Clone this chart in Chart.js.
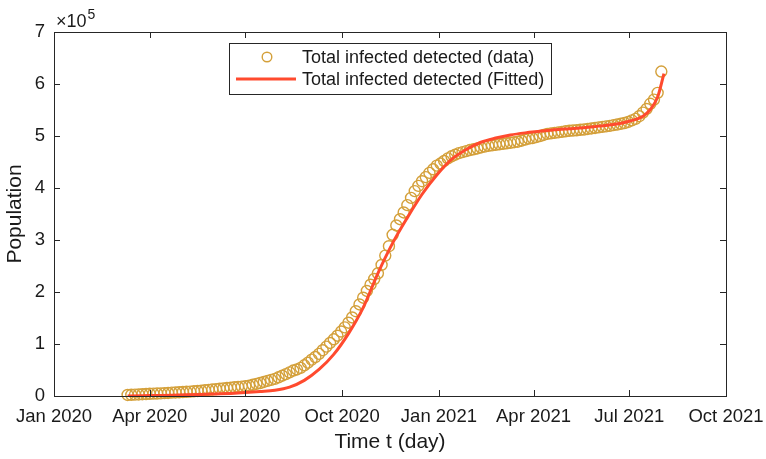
<!DOCTYPE html>
<html>
<head>
<meta charset="utf-8">
<script src="https://cdn.jsdelivr.net/npm/chart.js@4.4.1/dist/chart.umd.min.js"></script>
<style>
    html, body { margin: 0; padding: 0; background: #fff; }
</style>
</head>
<body>
<canvas id="grafico" width="766" height="459"></canvas>
<script>
"use strict";

/* ===== DATA ===== */
// x axis: days since 1 Jan 2020
const tickDays = [0, 91, 182, 274, 366, 456, 547, 639];
const tickLabels = ["Jan 2020", "Apr 2020", "Jul 2020", "Oct 2020", "Jan 2021", "Apr 2021", "Jul 2021", "Oct 2021"];
const yTicks = [0, 1, 2, 3, 4, 5, 6, 7];

// detected cases, sampled twice a week starting 11 Mar 2020
const firstDay = 70;
const stepDays = 3.5;
const detected = [
    2000, 2300, 2700, 3000, 3400, 3800, 4200, 4500, 4800, 5100,
    5500, 5900, 6400, 6800, 7200, 7700, 8100, 8500, 9100, 9600,
    10200, 11000, 11700, 12400, 13200, 14000, 14600, 15300, 16000, 16700,
    17400, 18100, 18800, 19800, 21500, 23300, 25000, 27000, 29000, 31000,
    33000, 36000, 39000, 42000, 45500, 49000, 51000, 54000, 59000, 64000,
    70000, 75000, 81000, 88000, 95000, 102000, 109000, 116000, 124000, 132000,
    141000, 151000, 163000, 176000, 189000, 202000, 214000, 225000, 236000, 252000,
    270000, 288000, 310000, 328000, 340000, 353000, 367000, 381000, 394000, 404000,
    413000, 421000, 429000, 436000, 443000, 447000, 452000, 457000, 461000, 464000,
    467000, 469000, 471000, 473000, 474500, 476000, 478000, 479500, 481000, 482000,
    483000, 484000, 485000, 486000, 487000, 488000, 489000, 491000, 493000, 495000,
    496000, 498000, 500000, 502000, 504000, 505000, 506000, 507000, 508000, 509000,
    510000, 510500, 511000, 512000, 512500, 513500, 514500, 515500, 516500, 517500,
    518500, 519500, 521000, 522000, 523500, 525000, 527000, 530000, 533000, 538000,
    545000, 552000, 562000, 570000, 583000, 624000
];

// fitted model curve
const fittedDays = [70, 84, 98, 112, 126, 140, 154, 168, 182, 196, 210, 224, 238, 252, 266, 280, 294, 308, 322, 336,
    350, 364, 378, 392, 406, 420, 434, 448, 462, 476, 490, 504, 518, 532, 546, 560, 567, 574, 580];
const fitted = [0, 500, 1000, 1500, 2200, 3000, 4000, 5000, 6500, 8500, 11000, 17000, 30000, 51000, 80000, 120000, 170000, 236000, 294000, 343000,
    388000, 425000, 455000, 474000, 488000, 496000, 502000, 506000, 509000, 512000, 514000, 516000, 519000, 522000, 528000, 538000, 551000, 575000, 620000];

const corTexto = "#1a1a1a";
const corEixo = "#262626";
const fonte = "'Liberation Sans', Arial, Helvetica, sans-serif";

/* ===== PLUGINS ===== */
// MATLAB-like box with inward ticks, exponent label and framed legend
const caixaMatlab = {
    id: "caixaMatlab",
    afterDraw(chart) {
        const ctx = chart.ctx;
        const a = chart.chartArea;
        const xs = chart.scales.x;
        const ys = chart.scales.y;
        const tam = 6;

        ctx.save();
        ctx.strokeStyle = corEixo;
        ctx.lineWidth = 1;
        ctx.strokeRect(Math.round(a.left) + 0.5, Math.round(a.top) + 0.5,
            Math.round(a.right - a.left), Math.round(a.bottom - a.top));

        ctx.beginPath();
        tickDays.forEach(d => {
            const px = Math.round(xs.getPixelForValue(d)) + 0.5;
            ctx.moveTo(px, a.bottom); ctx.lineTo(px, a.bottom - tam);
            ctx.moveTo(px, a.top); ctx.lineTo(px, a.top + tam);
        });
        ys.ticks.forEach(t => {
            const py = Math.round(ys.getPixelForValue(t.value)) + 0.5;
            ctx.moveTo(a.left, py); ctx.lineTo(a.left + tam, py);
            ctx.moveTo(a.right, py); ctx.lineTo(a.right - tam, py);
        });
        ctx.stroke();

        // x10^5
        ctx.fillStyle = corTexto;
        ctx.textBaseline = "alphabetic";
        ctx.textAlign = "left";
        ctx.font = "18px " + fonte;
        ctx.fillText("\u00d710", a.left + 2, a.top - 5);
        const w = ctx.measureText("\u00d710").width;
        ctx.font = "14px " + fonte;
        ctx.fillText("5", a.left + 3 + w, a.top - 13);

        // legend
        const lx = 229, ly = 43, lw = 322, lh = 51;
        ctx.fillStyle = "#fff";
        ctx.fillRect(lx, ly, lw, lh);
        ctx.strokeStyle = corEixo;
        ctx.strokeRect(lx + 0.5, ly + 0.5, lw, lh);

        const dsPts = chart.data.datasets[0];
        const dsLin = chart.data.datasets[1];
        ctx.font = "18px " + fonte;
        ctx.fillStyle = corTexto;
        ctx.textBaseline = "middle";

        ctx.beginPath();
        ctx.arc(267, 57, 4.8, 0, Math.PI * 2);
        ctx.strokeStyle = dsPts.borderColor;
        ctx.lineWidth = dsPts.borderWidth;
        ctx.stroke();
        ctx.fillText(dsPts.label, 302, 58);

        ctx.beginPath();
        ctx.moveTo(236, 79); ctx.lineTo(296, 79);
        ctx.strokeStyle = dsLin.borderColor;
        ctx.lineWidth = dsLin.borderWidth;
        ctx.stroke();
        ctx.fillText(dsLin.label, 302, 80);
        ctx.restore();
    }
};

/* ===== CHART ===== */
const pontos = detected.map((v, i) => ({ x: firstDay + i * stepDays, y: v }));
const curva = fitted.map((v, i) => ({ x: fittedDays[i], y: v }));

new Chart(document.getElementById("grafico"), {
    type: "scatter",
    data: {
        datasets: [
            {
                label: "Total infected detected (data)",
                data: pontos,
                borderColor: "#d4a03a",
                backgroundColor: "rgba(0,0,0,0)",
                borderWidth: 1.4,
                pointRadius: 5.5,
                clip: false,
                order: 2
            },
            {
                label: "Total infected detected (Fitted)",
                data: curva,
                showLine: true,
                borderColor: "#ff4a2e",
                borderWidth: 3,
                pointRadius: 0,
                cubicInterpolationMode: "monotone",
                order: 1
            }
        ]
    },
    options: {
        responsive: false,
        animation: false,
        devicePixelRatio: 1,
        layout: { padding: { top: 32, right: 40, left: 0, bottom: 0 } },
        plugins: {
            legend: { display: false },
            tooltip: { enabled: false }
        },
        scales: {
            x: {
                type: "linear",
                min: 0,
                max: 639,
                grid: { display: false, drawTicks: false },
                border: { display: false },
                afterFit: s => { s.height = 63; s.paddingLeft = 0; s.paddingRight = 0; },
                afterBuildTicks: s => { s.ticks = tickDays.map(v => ({ value: v })); },
                ticks: {
                    autoSkip: false,
                    maxRotation: 0,
                    padding: 10,
                    color: corTexto,
                    font: { family: fonte, size: 18.5 },
                    callback: v => tickLabels[tickDays.indexOf(v)]
                },
                title: {
                    display: true,
                    text: "Time t (day)",
                    color: corTexto,
                    font: { family: fonte, size: 21 },
                    padding: { top: 0, bottom: 4 }
                }
            },
            y: {
                min: 0,
                max: 700000,
                grid: { display: false, drawTicks: false },
                border: { display: false },
                afterFit: s => { s.width = 54; s.paddingTop = 0; s.paddingBottom = 0; },
                afterBuildTicks: s => { s.ticks = yTicks.map(v => ({ value: v * 100000 })); },
                ticks: {
                    padding: 9,
                    color: corTexto,
                    font: { family: fonte, size: 18.5 },
                    callback: v => String(v / 100000)
                },
                title: {
                    display: true,
                    text: "Population",
                    color: corTexto,
                    font: { family: fonte, size: 21 },
                    padding: { top: 3, bottom: 0 }
                }
            }
        }
    },
    plugins: [caixaMatlab]
});
</script>
</body>
</html>
